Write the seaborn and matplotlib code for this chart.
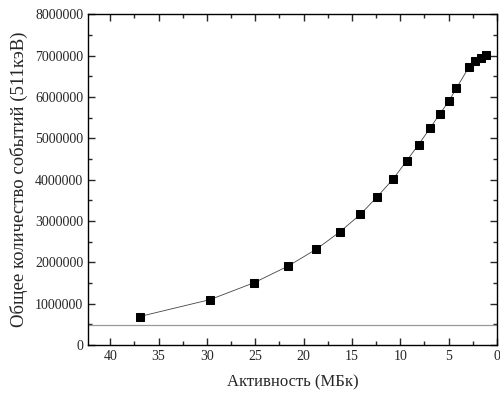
import matplotlib
matplotlib.use('Agg')
import matplotlib.pyplot as plt
from matplotlib.ticker import MultipleLocator
import seaborn as sns
import pandas as pd

sns.set_style('ticks')
plt.rcParams['font.family'] = ['Liberation Serif', 'DejaVu Serif']

# Activity (MBq) and total counts (511 keV)
activity = [36.96, 29.67, 25.1, 21.57, 18.68, 16.24, 14.13, 12.38, 10.76, 9.35,
            8.11, 6.94, 5.94, 4.98, 4.21, 2.91, 2.25, 1.63, 1.12]
counts = [690000, 1100000, 1510000, 1915000, 2320000, 2740000, 3160000, 3590000,
          4010000, 4455000, 4850000, 5240000, 5585000, 5900000, 6210000, 6720000,
          6880000, 6950000, 7020000]
threshold = 480000

df = pd.DataFrame({'activity': activity, 'counts': counts})

fig = plt.figure(figsize=(5, 3.98), dpi=100)
ax = fig.add_axes([0.176, 0.133, 0.818, 0.831])

ax.axhline(threshold, color='#999999', lw=0.9, zorder=1)
sns.lineplot(data=df, x='activity', y='counts', ax=ax, color='#444444', lw=0.6,
             marker='s', markersize=6.3, markeredgecolor='black',
             markerfacecolor='black', sort=False, zorder=3)

ax.set_xlim(42.3, 0)
ax.set_ylim(0, 8000000)
ax.xaxis.set_major_locator(MultipleLocator(5))
ax.xaxis.set_minor_locator(MultipleLocator(2.5))
ax.yaxis.set_major_locator(MultipleLocator(1000000))
ax.yaxis.set_minor_locator(MultipleLocator(500000))
ax.yaxis.set_major_formatter(matplotlib.ticker.FuncFormatter(lambda v, p: f'{int(v)}'))

ax.tick_params(which='both', direction='in', top=True, right=True, labelsize=10)
ax.tick_params(which='major', length=5, width=1)
ax.tick_params(which='minor', length=3, width=1)
for s in ax.spines.values():
    s.set_linewidth(1)
    s.set_color('black')

ax.set_xlabel('Активность (МБк)', fontsize=12, labelpad=8)
ax.set_ylabel('Общее количество событий (511кэВ)', fontsize=13.5, labelpad=5)

plt.savefig('out.png', dpi=100)
